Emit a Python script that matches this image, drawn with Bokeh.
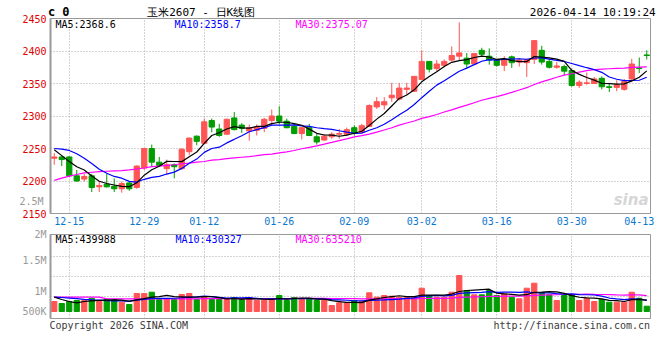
from bokeh.plotting import figure
from bokeh.models import Range1d, FixedTicker, Label, ColumnDataSource, LinearAxis
from bokeh.layouts import column
from bokeh.embed import file_html
from bokeh.resources import INLINE

# ---------------- data ----------------
dates = [
    "12-11", "12-12", "12-15", "12-16", "12-17", "12-18", "12-19", "12-22", "12-23", "12-24",
    "12-25", "12-26", "12-29", "12-30", "12-31",
    "01-05", "01-06", "01-07", "01-08", "01-09", "01-12", "01-13", "01-14", "01-15", "01-16",
    "01-19", "01-20", "01-21", "01-22", "01-23", "01-26", "01-27", "01-28", "01-29", "01-30",
    "02-02", "02-03", "02-04", "02-05", "02-06", "02-09", "02-10", "02-11", "02-12", "02-13",
    "02-24", "02-25", "02-26", "02-27",
    "03-02", "03-03", "03-04", "03-05", "03-06", "03-09", "03-10", "03-11", "03-12", "03-13",
    "03-16", "03-17", "03-18", "03-19", "03-20", "03-23", "03-24", "03-25", "03-26", "03-27",
    "03-30", "03-31",
    "04-01", "04-02", "04-03", "04-07", "04-08", "04-09", "04-10", "04-13", "04-14",
]

opens = [2235, 2237, 2237, 2208, 2203, 2208, 2191, 2195, 2192, 2188,
         2197, 2190, 2220, 2250, 2229, 2219, 2225, 2219, 2245, 2269,
         2258, 2293, 2280, 2272, 2297, 2286, 2277, 2278, 2281, 2293,
         2300, 2292, 2284, 2273, 2282, 2268, 2263, 2268, 2272, 2272,
         2282, 2275, 2284, 2314, 2317, 2328, 2326, 2341, 2338, 2356,
         2384, 2373, 2378, 2386, 2392, 2389, 2380, 2401, 2392, 2387,
         2378, 2391, 2383, 2382, 2387, 2401, 2384, 2375, 2376, 2370,
         2347, 2350, 2350, 2358, 2345, 2344, 2341, 2357, 2374, 2394]
highs = [2243, 2239, 2238, 2217, 2211, 2211, 2199, 2211, 2204, 2199,
         2199, 2224, 2250, 2256, 2237, 2233, 2227, 2250, 2267, 2270,
         2296, 2296, 2288, 2296, 2306, 2289, 2287, 2287, 2297, 2310,
         2315, 2296, 2288, 2283, 2288, 2273, 2272, 2275, 2280, 2282,
         2286, 2288, 2318, 2329, 2329, 2351, 2351, 2351, 2361, 2401,
         2384, 2386, 2387, 2407, 2444, 2397, 2397, 2405, 2404, 2388,
         2392, 2393, 2389, 2388, 2416, 2408, 2388, 2383, 2379, 2373,
         2355, 2367, 2360, 2361, 2351, 2355, 2357, 2388, 2390, 2401]
lows = [2225, 2223, 2206, 2199, 2199, 2183, 2183, 2190, 2183, 2182,
        2185, 2188, 2217, 2223, 2222, 2210, 2204, 2217, 2240, 2255,
        2257, 2275, 2268, 2272, 2278, 2274, 2262, 2270, 2275, 2286,
        2287, 2281, 2272, 2264, 2269, 2256, 2262, 2265, 2265, 2269,
        2270, 2274, 2283, 2311, 2310, 2322, 2324, 2333, 2337, 2356,
        2367, 2369, 2375, 2384, 2386, 2373, 2379, 2392, 2379, 2376,
        2369, 2374, 2376, 2360, 2380, 2379, 2373, 2373, 2363, 2345,
        2343, 2348, 2349, 2341, 2337, 2338, 2339, 2352, 2366, 2387]
closes = [2237, 2233, 2208, 2200, 2207, 2190, 2193, 2191, 2188, 2196,
          2188, 2223, 2250, 2229, 2224, 2225, 2222, 2249, 2266, 2261,
          2291, 2283, 2270, 2295, 2279, 2281, 2282, 2283, 2295, 2300,
          2292, 2282, 2273, 2282, 2270, 2260, 2269, 2272, 2273, 2279,
          2274, 2285, 2316, 2322, 2322, 2332, 2343, 2343, 2361, 2384,
          2372, 2380, 2384, 2393, 2397, 2380, 2396, 2395, 2386, 2378,
          2386, 2382, 2386, 2387, 2416, 2383, 2375, 2377, 2369, 2347,
          2352, 2351, 2357, 2345, 2344, 2348, 2353, 2380, 2373, 2393]
volumes = [390000, 312000, 390000, 429000, 429000, 519000, 390000, 468000, 468000, 363000,
           273000, 702000, 702000, 753000, 468000, 507000, 468000, 663000, 702000, 468000,
           585000, 468000, 468000, 468000, 546000, 468000, 546000, 429000, 429000, 507000,
           624000, 429000, 546000, 507000, 507000, 429000, 429000, 234000, 339000, 339000,
           429000, 390000, 729000, 558000, 624000, 597000, 558000, 558000, 558000, 909000,
           624000, 558000, 558000, 753000, 1404000, 819000, 651000, 651000, 819000, 624000,
           690000, 558000, 495000, 909000, 1104000, 729000, 651000, 429000, 624000, 651000,
           429000, 519000, 390000, 468000, 363000, 363000, 363000, 753000, 519000, 207000]

# moving-average values visible at the left edge (before a full window exists)
ma5_lead = [2248, 2239, 2230, 2222]
ma10_lead = [2250, 2249, 2247, 2242, 2235, 2227, 2218, 2212, 2207]
ma30_lead = [2201, 2204.5, 2207.5, 2210, 2212.5, 2213.5, 2214.5, 2215, 2215.5, 2216,
             2217, 2218.5, 2220, 2222, 2223, 2224, 2225, 2226.5, 2227.5, 2229,
             2230, 2232, 2233, 2234.5, 2235.5, 2236.5, 2237.5, 2239, 2240.5]
vma5_lead = [560000, 468000, 390000, 338000]
vma10_lead = [560000, 545000, 525000, 500000, 475000, 455000, 440000, 425000, 415000]
vma30_lead = [560000] * 7 + [495000] * 13 + [500000] * 9

tick_dates = ["12-15", "12-29", "01-12", "01-26", "02-09", "03-02", "03-16", "03-30", "04-13"]
price_ticks = [2150, 2200, 2250, 2300, 2350, 2400, 2450]
vol_range = (-273000, 3003000)
vol_grid = [585000, 1365000, 2145000]
# volume scale labels as printed by the source chart, and where they sit
vol_tick_labels = ["2.5M", "2M", "1.5M", "1M", "500K"]
vol_label_at = [3000000, 1989000, 792000, 0]      # on the volume axis
vol_top_label_at = 2169                           # "2.5M" sits in the price panel margin

price_legend = ["MA5:2368.6", "MA10:2358.7", "MA30:2375.07"]
vol_legend = ["MA5:439988", "MA10:430327", "MA30:635210"]
legend_colors = ["#000000", "#0000ff", "#ff00ff"]

header_code = "c 0"
header_code_at = 0.6
header_texts = ["玉米2607 - 日K线图", "2026-04-14 10:19:24"]
header_at = [19.6, 71.8]               # centres, in candle-index units
footer_texts = ["Copyright 2026 SINA.COM", "http://finance.sina.com.cn"]
footer_at = [8.6, 69.0]

# ---------------- derived ----------------
n = len(dates)
xs = list(range(n))
RED = "#ff5555"
GREEN = "#009c00"
colors = [RED if c >= o else GREEN for o, c in zip(opens, closes)]


def moving_avg(vals, w, lead):
    return list(lead) + [sum(vals[i - w + 1:i + 1]) / w for i in range(w - 1, len(vals))]


src = ColumnDataSource(dict(
    x=xs, high=highs, low=lows,
    top=[max(o, c) for o, c in zip(opens, closes)],
    bottom=[min(o, c) for o, c in zip(opens, closes)],
    color=colors, vol=volumes,
    ma5=moving_avg(closes, 5, ma5_lead),
    ma10=moving_avg(closes, 10, ma10_lead),
    ma30=moving_avg(closes, 30, ma30_lead),
    vma5=moving_avg(volumes, 5, vma5_lead),
    vma10=moving_avg(volumes, 10, vma10_lead),
    vma30=moving_avg(volumes, 30, vma30_lead),
))

MONO = "DejaVu Sans Mono"
GRID = "#a8a8a8"
FRAME = "#999999"
xticks = [dates.index(d) for d in tick_dates]


def style_common(fig):
    fig.outline_line_color = FRAME
    fig.outline_line_width = 1
    fig.background_fill_color = "white"
    fig.border_fill_color = "white"
    fig.xgrid.ticker = FixedTicker(ticks=xticks[:-1])
    for g in (fig.xgrid, fig.ygrid):
        g.grid_line_color = GRID
        g.grid_line_dash = "1 2"
        g.grid_line_width = 1


def style_axis(ax, color, size="10px", font=MONO, standoff=2, fstyle="normal", line=None):
    ax.major_label_text_color = color
    ax.major_label_text_font = font
    ax.major_label_text_font_size = size
    ax.major_label_text_font_style = fstyle
    ax.major_label_standoff = standoff
    ax.major_tick_line_color = None
    ax.minor_tick_line_color = None
    ax.major_tick_out = 0
    ax.major_tick_in = 0
    ax.minor_tick_out = 0
    ax.minor_tick_in = 0
    ax.axis_line_color = line


def text_axis(fig, place, positions, texts, color, **kw):
    """An extra axis that only carries texts printed in the chart's margins."""
    ax = LinearAxis(ticker=FixedTicker(ticks=positions),
                    major_label_overrides={p_: t for p_, t in zip(positions, texts)})
    style_axis(ax, color, **kw)
    fig.add_layout(ax, place)


def lbl(fig, x, y, text, color="#000000", size="10px", align="left", font=MONO, style="normal"):
    fig.add_layout(Label(x=x, y=y, x_units="screen", y_units="screen", text=text,
                         text_color=color, text_font=font, text_font_size=size,
                         text_font_style=style, text_align=align, text_baseline="middle"))


# ---------------- price panel ----------------
p = figure(width=660, height=228, x_range=Range1d(-0.5, n - 0.5),
           y_range=Range1d(price_ticks[0], price_ticks[-1]),
           output_backend="svg", toolbar_location=None, title=None,
           min_border_left=50, min_border_right=10, min_border_top=18, min_border_bottom=15)
style_common(p)
p.ygrid.ticker = FixedTicker(ticks=price_ticks[1:-1])

p.segment(x0="x", y0="low", x1="x", y1="high", line_color="color", line_width=1, source=src)
p.vbar(x="x", width=0.7, top="top", bottom="bottom", fill_color="color",
       line_color="color", line_width=1, source=src)
p.line("x", "ma30", line_color="#ff00ff", line_width=1.2, source=src)
p.line("x", "ma10", line_color="#0000ff", line_width=1.2, source=src)
p.line("x", "ma5", line_color="#000000", line_width=1.2, source=src)

p.xaxis.ticker = FixedTicker(ticks=xticks)
p.xaxis.major_label_overrides = {i: d for i, d in zip(xticks, tick_dates)}
style_axis(p.xaxis[0], "#0a78d0", standoff=3, line=FRAME)
p.yaxis.ticker = FixedTicker(ticks=price_ticks)
style_axis(p.yaxis[0], "#e00000", standoff=4, line=FRAME)
p.yaxis.axis_line_width = 2

# header line printed above the frame (second axis pulled back onto the same row)
text_axis(p, "above", header_at, header_texts, "#000000", size="11px", standoff=0)
text_axis(p, "above", [header_code_at], [header_code], "#000000", size="12px",
          standoff=-16, fstyle="bold")
# stray volume-scale label printed in the price panel's left margin
text_axis(p, "left", [vol_top_label_at], [vol_tick_labels[0]], "#999999", standoff=-24)

for xpos, t, c in zip([5, 124, 245], price_legend, legend_colors):
    lbl(p, xpos, 189, t, color=c)
lbl(p, 598, 14, "sina", color="#d6d6d6", size="15px", align="right",
    font="DejaVu Sans", style="bold italic")

# ---------------- volume panel ----------------
p2 = figure(width=660, height=108, x_range=p.x_range,
            y_range=Range1d(*vol_range),
            output_backend="svg", toolbar_location=None, title=None,
            min_border_left=50, min_border_right=10, min_border_top=6, min_border_bottom=18)
style_common(p2)
p2.ygrid.ticker = FixedTicker(ticks=vol_grid)
p2.yaxis.ticker = FixedTicker(ticks=vol_label_at)
p2.yaxis.major_label_overrides = {v: t for v, t in zip(vol_label_at, vol_tick_labels[1:])}
style_axis(p2.yaxis[0], "#999999", standoff=4, line=FRAME)
p2.yaxis.axis_line_width = 2
# footer printed under the volume frame
p2.xaxis.ticker = FixedTicker(ticks=footer_at)
p2.xaxis.major_label_overrides = {v: t for v, t in zip(footer_at, footer_texts)}
style_axis(p2.xaxis[0], "#3a3a3a", standoff=1)

p2.vbar(x="x", width=0.7, top="vol", bottom=0, fill_color="color",
        line_color="color", line_width=1, source=src)
p2.line("x", "vma30", line_color="#ff00ff", line_width=1.2, source=src)
p2.line("x", "vma10", line_color="#0000ff", line_width=1.2, source=src)
p2.line("x", "vma5", line_color="#000000", line_width=1.2, source=src)

for xpos, t, c in zip([5, 125, 245], vol_legend, legend_colors):
    lbl(p2, xpos, 79.5, t, color=c)

layout = column(p, p2, spacing=0)
open("out.html", "w").write(file_html(layout, INLINE))
